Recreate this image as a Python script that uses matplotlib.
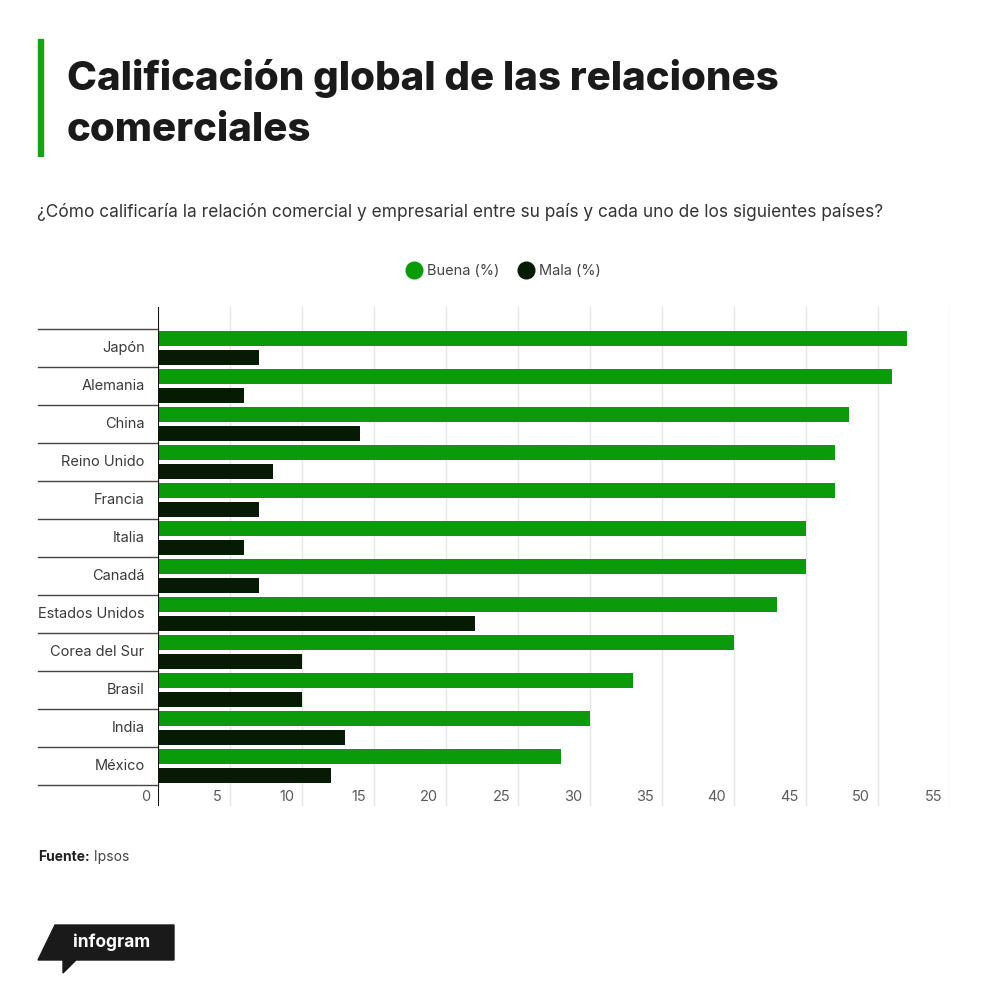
import matplotlib
matplotlib.use("Agg")
import matplotlib.pyplot as plt
import matplotlib.transforms as mtransforms
from matplotlib.lines import Line2D
from matplotlib.patches import Polygon, Rectangle
import numpy as np

# --- datos ---
paises = ["Japón", "Alemania", "China", "Reino Unido", "Francia", "Italia",
          "Canadá", "Estados Unidos", "Corea del Sur", "Brasil", "India", "México"]
buena = [52, 51, 48, 47, 47, 45, 45, 43, 40, 33, 30, 28]
mala = [7, 6, 14, 8, 7, 6, 7, 22, 10, 10, 13, 12]
ticks_x = [0, 5, 10, 15, 20, 25, 30, 35, 40, 45, 50, 55]

VERDE = "#0a9a0a"
NEGRO = "#061a04"
FONT = "Inter"

W, H = 1000, 993


def fx(px):
    return px / W


def fy(py):
    return 1 - py / H


fig = plt.figure(figsize=(10, 9.93), dpi=100)
fig.patch.set_facecolor("white")

# --- cabecera ---
fig.add_artist(Rectangle((fx(38), fy(156)), fx(5), (156 - 39) / H,
                         color="#17a317", transform=fig.transFigure))
fig.text(fx(67), fy(90), "Calificación global de las relaciones", fontsize=29,
         fontweight="heavy", family=FONT, color="#1a1a1a", va="baseline")
fig.text(fx(67), fy(141), "comerciales", fontsize=29,
         fontweight="heavy", family=FONT, color="#1a1a1a", va="baseline")
fig.text(fx(37), fy(217), "¿Cómo calificaría la relación comercial y empresarial entre su país "
         "y cada uno de los siguientes países?", fontsize=12.45, family=FONT,
         color="#333333", va="baseline")

# --- gráfico ---
ax = fig.add_axes([fx(158), fy(806), (950 - 158) / W, (806 - 307) / H])
y = np.arange(len(paises))
ax.barh(y - 0.245, buena, height=0.4, color=VERDE, zorder=3)
ax.barh(y + 0.245, mala, height=0.4, color=NEGRO, zorder=3)

ax.set_xlim(0, 55)
ax.set_ylim(12.05, -1.08)
for t in ticks_x[1:]:
    ax.axvline(t, color="#e6e6e6", lw=1, zorder=1)
ax.axvline(0, color="#111111", lw=1.5, zorder=4)

for s in ax.spines.values():
    s.set_visible(False)
ax.set_xticks([])
ax.set_yticks([])

# etiquetas de categoría y separadores
trans_y = mtransforms.blended_transform_factory(ax.transAxes, ax.transData)
for i, p in enumerate(paises):
    ax.text(-0.017, i, p, transform=trans_y, ha="right", va="center",
            fontsize=10.5, family=FONT, color="#3a3a3a")
for b in np.arange(len(paises) + 1) - 0.5:
    ax.plot([-0.1515, 0], [b, b], transform=trans_y, color="#444444",
            lw=1, clip_on=False)

# etiquetas del eje x (dentro del área, a la izquierda de cada línea)
trans_x = mtransforms.blended_transform_factory(ax.transData, ax.transAxes)
for t in ticks_x:
    ax.text(t - 0.55, 0.018, str(t), transform=trans_x, ha="right", va="center",
            fontsize=10.5, family=FONT, color="#5a5a5a")

# leyenda
handles = [Line2D([], [], marker="o", ls="", ms=12, color=VERDE),
           Line2D([], [], marker="o", ls="", ms=12, color=NEGRO)]
fig.legend(handles, ["Buena (%)", "Mala (%)"], loc="center",
           bbox_to_anchor=(fx(503), fy(271)), ncol=2, frameon=False,
           handletextpad=0.3, columnspacing=1.2, handlelength=1.2,
           prop={"family": FONT, "size": 10.5}, labelcolor="#444444")

# fuente
t1 = fig.text(fx(38), fy(861), "Fuente:", fontsize=10, fontweight="bold",
              family=FONT, color="#222222", va="baseline")
ax.annotate(" Ipsos", xy=(1, 0), xycoords=t1, va="bottom", ha="left",
            fontsize=10, family=FONT, color="#444444", annotation_clip=False)

# logo infogram
pts = [(55, 925), (174, 925), (174, 960), (76, 960), (63, 973), (63, 960), (38, 960)]
fig.add_artist(Polygon([(fx(a), fy(b)) for a, b in pts], closed=True,
                       color="#1a1a1a", transform=fig.transFigure))
fig.text(fx(112), fy(942), "infogram", fontsize=12.5, fontweight="bold",
         family=FONT, color="white", ha="center", va="center")

fig.savefig("out.png", dpi=100, facecolor="white")
